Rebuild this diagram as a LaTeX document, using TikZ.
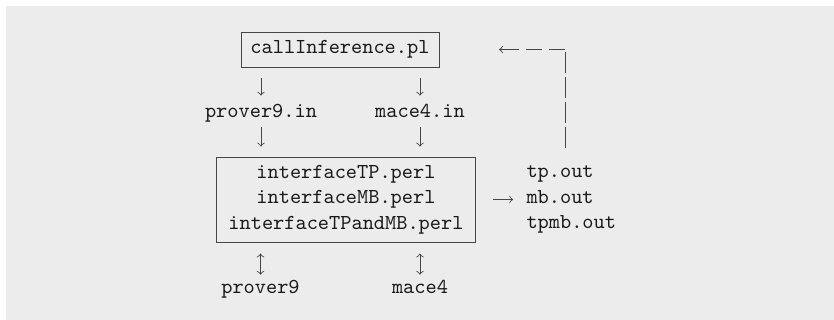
\documentclass[tikz,border=0pt]{standalone}
\usepackage{tikz}
\usetikzlibrary{arrows,positioning,calc}
\definecolor{panelgray}{RGB}{236,236,236}
\definecolor{inkgray}{RGB}{70,70,70}

\begin{document}
\begin{tikzpicture}[
        prog/.style={draw=inkgray, font=\ttfamily, text=black!90, inner sep=0pt, align=center},
        fname/.style={font=\ttfamily, text=black!90, inner sep=0pt, text height=6.1pt, text depth=2.2pt},
        arrow/.style={->, >=to, draw=inkgray},
        dblarrow/.style={<->, >=to, draw=inkgray},
        loopup/.style={draw=inkgray, dash pattern=on 9.8pt off 2pt},
        loopback/.style={->, >=to, draw=inkgray, dash pattern=on 7.3pt off 3.5pt on 7.3pt off 3.5pt on 20pt off 0pt}
    ]
        \useasboundingbox (0,0) rectangle (13.75,-5.275);
        \fill[panelgray] (0.099,-0.099) rectangle (13.75,-5.275);

        % Programs
        \node[prog, minimum width=92.9pt, minimum height=16.4pt] (call) at (5.605,-0.816) {callInference.pl};
        \node[prog, minimum width=121.9pt, minimum height=39.9pt] (iface) at (5.704,-3.289)
            {interfaceTP.perl\\interfaceMB.perl\\interfaceTPandMB.perl};

        % Files and provers
        \node[fname, anchor=base] (p9in) at (4.303,-1.929) {prover9.in};
        \node[fname, anchor=base] (m4in) at (6.924,-1.929) {mace4.in};
        \node[fname, anchor=base] (p9) at (4.295,-4.831) {prover9};
        \node[fname, anchor=base] (m4) at (6.924,-4.831) {mace4};
        \node[font=\ttfamily, text=black!90, inner sep=0pt, align=left, right=0.82cm of iface] (outs)
            {tp.out\\mb.out\\tpmb.out};
        \coordinate (loop) at (9.315,-2.44);
        \coordinate (corner) at (loop |- call.east);

        % Arrows
        \draw[arrow, shorten <=5.2pt, shorten >=3.75pt] (call.south -| p9in) -- (p9in);
        \draw[arrow, shorten <=5.2pt, shorten >=3.75pt] (call.south -| m4in) -- (m4in);
        \draw[arrow, shorten <=2.5pt, shorten >=4.7pt] (p9in) -- (iface.north -| p9in);
        \draw[arrow, shorten <=2.5pt, shorten >=4.7pt] (m4in) -- (iface.north -| m4in);
        \draw[dblarrow, shorten <=5.2pt, shorten >=2.3pt] (iface.south -| p9) -- (p9);
        \draw[dblarrow, shorten <=5.2pt, shorten >=2.3pt] (iface.south -| m4) -- (m4);
        \draw[arrow, shorten <=8pt, shorten >=6.1pt] (iface.east) -- (iface.east -| outs.west);
        \draw[loopup, shorten >=1pt] (loop) -- (corner);
        \draw[loopback] (corner) -- ([xshift=28pt]call.east);
    \end{tikzpicture}
\end{document}
